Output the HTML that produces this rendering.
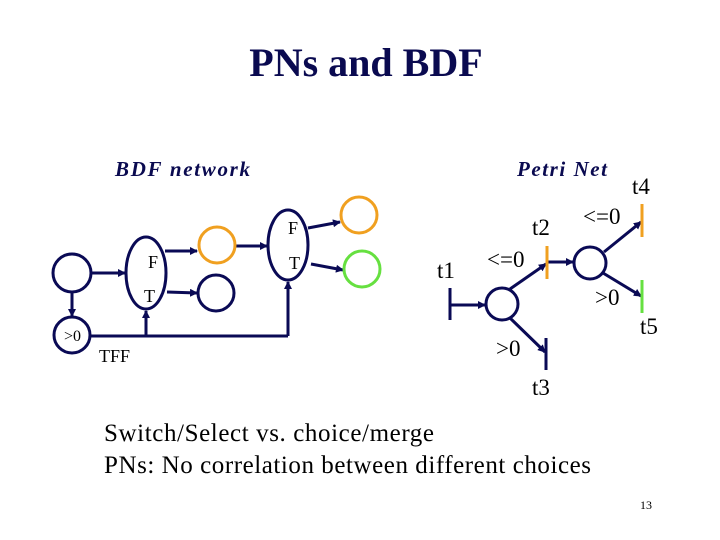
<!DOCTYPE html>
<html><head><meta charset="utf-8"><style>
html,body{margin:0;padding:0;background:#fff;}
svg{display:block;}
</style></head><body>
<svg width="720" height="540" viewBox="0 0 720 540" xmlns="http://www.w3.org/2000/svg" font-family="Liberation Serif, serif">
<defs>
<marker id="a" markerWidth="8" markerHeight="8" refX="7" refY="4" orient="auto" markerUnits="userSpaceOnUse">
<path d="M0,0 L8,4 L0,8 z" fill="#0a0a55"/></marker>
</defs>
<rect width="720" height="540" fill="#fff"/>
<text x="366" y="76" font-size="40" font-weight="bold" fill="#0a0a50" text-anchor="middle">PNs and BDF</text>
<text x="115" y="176" font-size="21" font-weight="bold" font-style="italic" fill="#0a0a50" textLength="135" lengthAdjust="spacing">BDF network</text>
<text x="517" y="176" font-size="21" font-weight="bold" font-style="italic" fill="#0a0a50" textLength="90" lengthAdjust="spacing">Petri Net</text>

<g stroke="#0a0a55" stroke-width="3" fill="none">
<circle cx="72" cy="273" r="19"/>
<circle cx="72" cy="335" r="18"/>
<ellipse cx="146" cy="273" rx="20" ry="36"/>
<circle cx="216" cy="293" r="18"/>
<ellipse cx="288" cy="245" rx="20" ry="35"/>
<line x1="90" y1="336" x2="288" y2="336"/>
<line x1="146" y1="336" x2="146" y2="311" marker-end="url(#a)"/>
<line x1="288" y1="336" x2="288" y2="282" marker-end="url(#a)"/>
<line x1="92" y1="273" x2="125" y2="273" marker-end="url(#a)"/>
<line x1="72" y1="292" x2="72" y2="316" marker-end="url(#a)"/>
<line x1="165" y1="251" x2="197" y2="251" marker-end="url(#a)"/>
<line x1="167" y1="292" x2="197" y2="293" marker-end="url(#a)"/>
<line x1="235" y1="246" x2="267" y2="246" marker-end="url(#a)"/>
<line x1="308" y1="228" x2="340" y2="222" marker-end="url(#a)"/>
<line x1="311" y1="264" x2="343" y2="270" marker-end="url(#a)"/>
</g>
<circle cx="217" cy="245" r="18" stroke="#f0a020" stroke-width="3" fill="none"/>
<circle cx="359" cy="215" r="18" stroke="#f0a020" stroke-width="3" fill="none"/>
<circle cx="362" cy="269" r="18" stroke="#66e040" stroke-width="3" fill="none"/>
<g font-size="18" fill="#000">
<text x="148" y="268">F</text>
<text x="144" y="302">T</text>
<text x="288" y="234">F</text>
<text x="289" y="269">T</text>
<text x="64" y="341" font-size="16">&gt;0</text>
<text x="99" y="362">TFF</text>
</g>

<g stroke="#0a0a55" stroke-width="3" fill="none">
<line x1="450" y1="288" x2="450" y2="320"/>
<line x1="546" y1="338" x2="546" y2="370"/>
<circle cx="502" cy="304" r="16"/>
<circle cx="590" cy="263" r="16"/>
<line x1="450" y1="305" x2="485" y2="305" marker-end="url(#a)"/>
<line x1="510" y1="289" x2="546" y2="264" marker-end="url(#a)"/>
<line x1="547" y1="262" x2="573" y2="262" marker-end="url(#a)"/>
<line x1="604" y1="252" x2="641" y2="222" marker-end="url(#a)"/>
<line x1="603" y1="273" x2="641" y2="296" marker-end="url(#a)"/>
<line x1="510" y1="318" x2="545" y2="352" marker-end="url(#a)"/>
</g>
<line x1="547" y1="246" x2="547" y2="279" stroke="#f0a020" stroke-width="3"/>
<line x1="642" y1="204" x2="642" y2="237" stroke="#f0a020" stroke-width="3"/>
<line x1="642" y1="280" x2="642" y2="313" stroke="#66e040" stroke-width="3"/>
<g font-size="23" fill="#000">
<text x="437" y="278">t1</text>
<text x="487" y="267">&lt;=0</text>
<text x="532" y="235">t2</text>
<text x="583" y="224">&lt;=0</text>
<text x="632" y="194">t4</text>
<text x="595" y="305">&gt;0</text>
<text x="640" y="334">t5</text>
<text x="496" y="356">&gt;0</text>
<text x="532" y="395">t3</text>
</g>

<text x="104" y="441" font-size="25" fill="#000" textLength="330" lengthAdjust="spacing">Switch/Select vs. choice/merge</text>
<text x="104" y="473" font-size="25" fill="#000" textLength="487" lengthAdjust="spacing">PNs: No correlation between different choices</text>
<text x="640" y="509" font-size="12" fill="#000">13</text>
</svg>
</body></html>
